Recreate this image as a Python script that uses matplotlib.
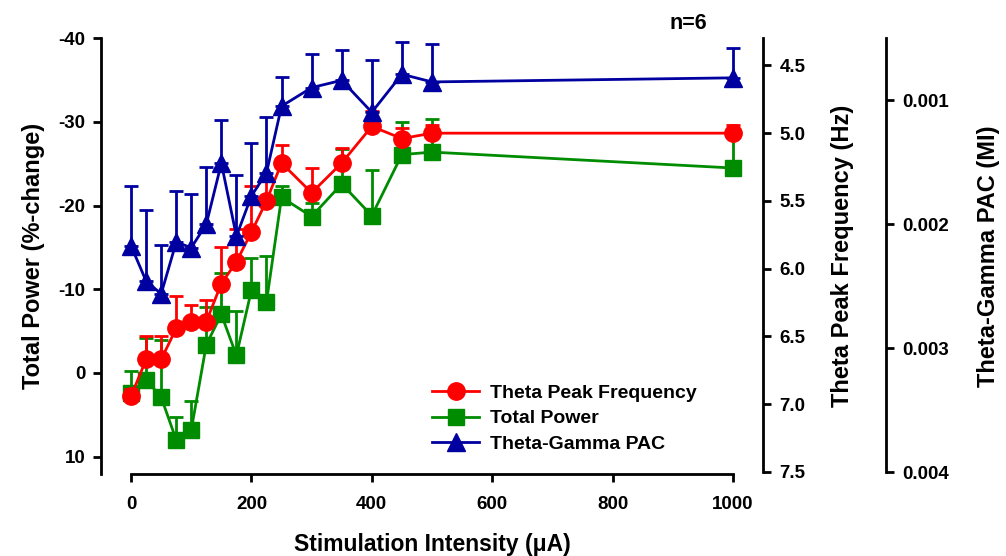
import numpy as np
import matplotlib
matplotlib.use("Agg")
import matplotlib.pyplot as plt
from matplotlib.lines import Line2D

plt.rcParams['font.family'] = ['Liberation Sans', 'DejaVu Sans']
plt.rcParams['font.weight'] = 'bold'
plt.rcParams['axes.labelweight'] = 'bold'
plt.rcParams['axes.unicode_minus'] = False

# stimulation intensities (uA)
intensity = [0, 25, 50, 75, 100, 125, 150, 175, 200, 225, 250, 300, 350, 400, 450, 500, 1000]

# theta peak frequency (Hz), mean and top of error bar
freq_mean = [6.94, 6.67, 6.67, 6.44, 6.39, 6.39, 6.11, 5.95, 5.73, 5.50, 5.22, 5.44, 5.22, 4.95, 5.04, 5.00, 5.00]
freq_cap = [6.89, 6.50, 6.50, 6.20, 6.27, 6.23, 5.84, 5.71, 5.39, 5.34, 5.09, 5.26, 5.11, 4.84, 4.96, 4.94, 4.94]

# total power (%-change)
power_mean = [2.4, 0.8, 2.9, 8.0, 6.8, -3.4, -7.0, -2.1, -9.9, -8.5, -21.0, -18.7, -22.6, -18.8, -26.1, -26.4, -24.5]
power_cap = [-0.2, -4.2, -3.9, 5.2, 3.4, -7.9, -11.9, -7.4, -13.8, -14.0, -22.4, -20.3, -26.8, -24.3, -30.0, -30.3, -28.2]

# theta-gamma PAC (MI)
pac_mean = [0.002175, 0.002460, 0.002562, 0.002145, 0.002190, 0.002000, 0.001508, 0.002097, 0.001772,
            0.001586, 0.001048, 0.000898, 0.000839, 0.001097, 0.000790, 0.000852, 0.000819]
pac_cap = [0.001691, 0.001887, 0.002169, 0.001731, 0.001758, 0.001540, 0.001161, 0.001605, 0.001344,
           0.001135, 0.000815, 0.000629, 0.000591, 0.000677, 0.000530, 0.000548, 0.000575]

red = '#FF0000'
green = '#008C00'
blue = '#0000A0'

fig = plt.figure(figsize=(10.06, 5.56), dpi=100)
ax = fig.add_axes([0.1004, 0.1475, 0.6580, 0.7836])
ax_f = ax.twinx()
ax_p = ax.twinx()

lw = 2.0
fs = 13.5
lfs = 17


def draw(a, mean, cap, color, marker, ms, z):
    mean = np.array(mean)
    cap = np.array(cap)
    err = [np.abs(mean - cap), np.zeros(len(mean))]
    a.errorbar(intensity, mean, yerr=err, fmt='none', ecolor=color, elinewidth=lw,
               capsize=5, capthick=lw, zorder=z)
    a.plot(intensity, mean, color=color, lw=lw, marker=marker, ms=ms, mec=color, mfc=color, zorder=z)


draw(ax_f, freq_mean, freq_cap, red, 'o', 12.5, 3)
draw(ax, power_mean, power_cap, green, 's', 12, 3)
draw(ax_p, pac_mean, pac_cap, blue, '^', 13.5, 3)

# main axis
ax.set_xlim(-50, 1050)
ax.set_ylim(12.07, -40)
ax.set_xticks([0, 200, 400, 600, 800, 1000])
ax.set_yticks([-40, -30, -20, -10, 0, 10])
ax.spines['top'].set_visible(False)
ax.spines['right'].set_visible(False)
ax.spines['bottom'].set_bounds(0, 1000)
for s in ['left', 'bottom']:
    ax.spines[s].set_linewidth(2)
ax.tick_params(width=2, length=6, labelsize=fs, pad=5)
ax.tick_params(axis='x', pad=10)
ax.set_ylabel('Total Power (%-change)', fontsize=lfs, labelpad=10)
ax.set_xlabel('Stimulation Intensity (\u03bcA)', fontsize=16.5, labelpad=14)

# frequency axis
ax_f.set_ylim(7.515, 4.3)
ax_f.set_yticks([4.5, 5.0, 5.5, 6.0, 6.5, 7.0, 7.5])
ax_f.set_yticklabels(['4.5', '5.0', '5.5', '6.0', '6.5', '7.0', '7.5'])
ax_f.spines['right'].set_bounds(7.5, 4.3)

# PAC axis
ax_p.set_ylim(0.004016, 0.0005)
ax_p.set_yticks([0.001, 0.002, 0.003, 0.004])
ax_p.set_yticklabels(['0.001', '0.002', '0.003', '0.004'])
ax_p.spines['right'].set_position(('axes', 1.186))
ax_p.spines['right'].set_bounds(0.004, 0.0005)

for a in (ax_f, ax_p):
    for s in ['top', 'left', 'bottom']:
        a.spines[s].set_visible(False)
    a.spines['right'].set_linewidth(2)
    a.tick_params(width=2, length=6, labelsize=fs, pad=6)

ax_f.set_ylabel('Theta Peak Frequency (Hz)', fontsize=lfs, labelpad=18)
ax_p.set_ylabel('Theta-Gamma PAC (MI)', fontsize=lfs, labelpad=20)

handles = [
    Line2D([], [], color=red, lw=lw, marker='o', ms=12.5),
    Line2D([], [], color=green, lw=lw, marker='s', ms=12),
    Line2D([], [], color=blue, lw=lw, marker='^', ms=13.5),
]
labels = ['Theta Peak Frequency', 'Total Power', 'Theta-Gamma PAC']
ax_p.legend(handles, labels, loc='upper left', bbox_to_anchor=(0.486, 0.228), frameon=False,
            fontsize=14, handlelength=2.4, handletextpad=0.55, labelspacing=0.4, borderpad=0)

fig.text(0.684, 0.958, 'n=6', fontsize=15.5, ha='center', va='center', fontweight='bold')

fig.savefig('out.png', dpi=100)
